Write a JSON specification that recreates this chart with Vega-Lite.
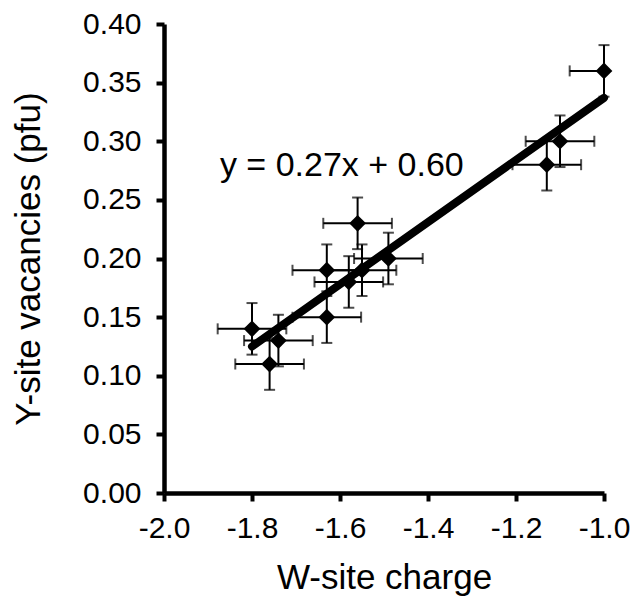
{
  "$schema": "https://vega.github.io/schema/vega-lite/v6.json",
  "width": 440,
  "height": 469,
  "autosize": {"type": "none"},
  "padding": {"left": 164, "top": 24, "right": 26, "bottom": 106},
  "background": "white",
  "config": {
    "view": {"stroke": null},
    "font": "Liberation Sans",
    "locale": {"number": {"decimal": ".", "thousands": ",", "grouping": [3], "currency": ["$", ""], "minus": "-"}},
    "axis": {
      "grid": false,
      "labelFlush": false,
      "labelOverlap": false,
      "domainColor": "black",
      "domainWidth": 4.5,
      "tickColor": "black",
      "tickWidth": 4,
      "tickSize": 8,
      "labelFont": "Liberation Sans",
      "labelFontSize": 30,
      "labelColor": "black",
      "titleFont": "Liberation Sans",
      "titleFontSize": 35,
      "titleFontWeight": "normal",
      "titleColor": "black"
    }
  },
  "datasets": {
    "pts": [
      {"charge": -1.80, "vac": 0.14, "exlo": -0.078, "exhi": 0.078, "ey": 0.022},
      {"charge": -1.74, "vac": 0.13, "exlo": -0.078, "exhi": 0.078, "ey": 0.022},
      {"charge": -1.76, "vac": 0.11, "exlo": -0.078, "exhi": 0.078, "ey": 0.022},
      {"charge": -1.63, "vac": 0.19, "exlo": -0.078, "exhi": 0.078, "ey": 0.022},
      {"charge": -1.63, "vac": 0.15, "exlo": -0.078, "exhi": 0.078, "ey": 0.022},
      {"charge": -1.58, "vac": 0.18, "exlo": -0.078, "exhi": 0.078, "ey": 0.022},
      {"charge": -1.55, "vac": 0.19, "exlo": -0.078, "exhi": 0.078, "ey": 0.022},
      {"charge": -1.56, "vac": 0.23, "exlo": -0.078, "exhi": 0.078, "ey": 0.022},
      {"charge": -1.49, "vac": 0.20, "exlo": -0.078, "exhi": 0.078, "ey": 0.022},
      {"charge": -1.13, "vac": 0.28, "exlo": -0.078, "exhi": 0.078, "ey": 0.022},
      {"charge": -1.10, "vac": 0.30, "exlo": -0.078, "exhi": 0.078, "ey": 0.022},
      {"charge": -1.00, "vac": 0.36, "exlo": -0.078, "exhi": 0.0, "ey": 0.022}
    ],
    "fit": [
      {"charge": -1.80, "vac": 0.125},
      {"charge": -1.00, "vac": 0.337}
    ],
    "eq": [
      {"charge": -1.873, "vac": 0.27, "label": "y = 0.27x + 0.60"}
    ]
  },
  "layer": [
    {
      "data": {"name": "pts"},
      "mark": {"type": "errorbar", "ticks": true, "size": 11, "thickness": 2, "color": "black"},
      "encoding": {
        "x": {
          "field": "charge", "type": "quantitative", "title": "W-site charge",
          "scale": {"domain": [-2, -1], "nice": false, "zero": false},
          "axis": {"values": [-2, -1.8, -1.6, -1.4, -1.2, -1], "format": ".1f", "labelPadding": 12, "titlePadding": 17}
        },
        "xError": {"field": "exlo"},
        "xError2": {"field": "exhi"},
        "y": {
          "field": "vac", "type": "quantitative", "title": "Y-site vacancies (pfu)",
          "scale": {"domain": [0, 0.4], "nice": false},
          "axis": {"values": [0, 0.05, 0.1, 0.15, 0.2, 0.25, 0.3, 0.35, 0.4], "format": ".2f", "labelPadding": 15, "titlePadding": 36}
        }
      }
    },
    {
      "data": {"name": "pts"},
      "mark": {"type": "errorbar", "ticks": true, "size": 11, "thickness": 2, "color": "black"},
      "encoding": {
        "x": {"field": "charge", "type": "quantitative", "title": "W-site charge"},
        "y": {"field": "vac", "type": "quantitative", "title": "Y-site vacancies (pfu)"},
        "yError": {"field": "ey"}
      }
    },
    {
      "data": {"name": "pts"},
      "mark": {"type": "point", "shape": "diamond", "filled": true, "size": 280, "color": "black", "opacity": 1},
      "encoding": {
        "x": {"field": "charge", "type": "quantitative", "title": "W-site charge"},
        "y": {"field": "vac", "type": "quantitative", "title": "Y-site vacancies (pfu)"}
      }
    },
    {
      "data": {"name": "fit"},
      "mark": {"type": "line", "color": "black", "strokeWidth": 8, "strokeCap": "round"},
      "encoding": {
        "x": {"field": "charge", "type": "quantitative", "title": "W-site charge"},
        "y": {"field": "vac", "type": "quantitative", "title": "Y-site vacancies (pfu)"}
      }
    },
    {
      "data": {"name": "eq"},
      "mark": {"type": "text", "align": "left", "baseline": "alphabetic", "fontSize": 34, "font": "Liberation Sans", "color": "black"},
      "encoding": {
        "x": {"field": "charge", "type": "quantitative", "title": "W-site charge"},
        "y": {"field": "vac", "type": "quantitative", "title": "Y-site vacancies (pfu)"},
        "text": {"field": "label"}
      }
    }
  ]
}
